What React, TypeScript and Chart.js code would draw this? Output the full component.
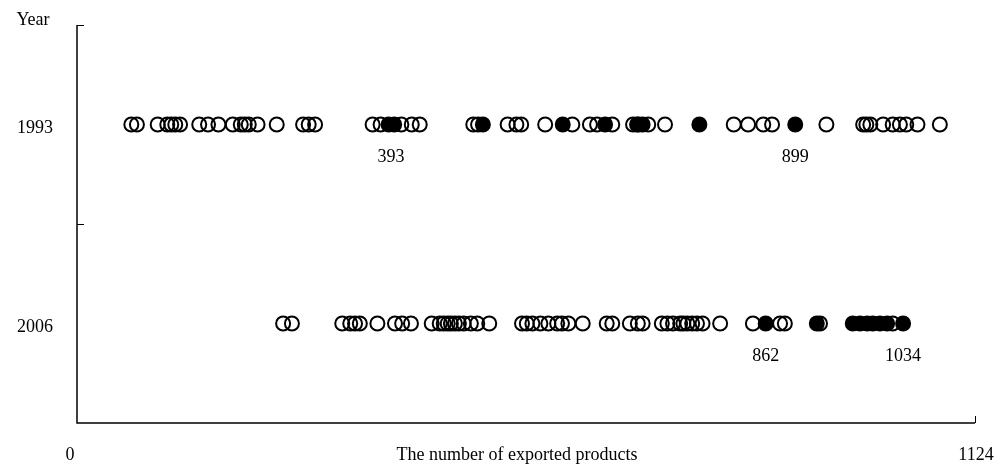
import React, { useEffect, useRef } from "react";
import { Chart, registerables } from "chart.js";

Chart.register(...registerables);

const years = ["1993", "2006"];
const yearLevels = [1.5, 0.5];
const xMin = 0;
const xMax = 1124;
const xTickLabels = ["0", "1124"];
const xTitle = "The number of exported products";
const yTitle = "Year";

const open1993 = [68, 75, 101, 113, 118, 123, 129, 153, 164, 177, 195, 205, 210, 215, 226, 250, 283, 290, 298, 370, 380, 406, 419, 429, 496, 502, 539, 550, 556, 586, 620, 642, 651, 670, 696, 703, 715, 736, 822, 840, 859, 870, 938, 984, 988, 993, 1009, 1021, 1030, 1038, 1052, 1080];
const filled1993 = [390, 397, 508, 608, 661, 701, 708, 779, 899];
const open2006 = [258, 269, 332, 342, 348, 354, 376, 398, 407, 418, 444, 454, 459, 464, 468, 473, 478, 484, 493, 501, 516, 557, 563, 570, 580, 590, 601, 607, 615, 633, 663, 670, 692, 702, 708, 732, 739, 746, 755, 759, 764, 770, 776, 783, 805, 846, 880, 886, 930, 1021];
const filled2006 = [862, 926, 971, 980, 989, 996, 1005, 1014, 1034];
const marked1993 = [393, 899];
const marked2006 = [862, 1034];

const FONT = "18px 'Liberation Serif', 'Times New Roman', serif";

export default function App() {
  const ref = useRef<HTMLCanvasElement>(null);
  useEffect(() => {
    if (!ref.current) return;
    const pts = (arr: number[], lvl: number) => arr.map((x) => ({ x, y: lvl }));
    const decor = {
      id: "decor",
      afterDraw(chart: any) {
        const { ctx, chartArea, scales } = chart;
        const xs = scales.x;
        const ys = scales.y;
        ctx.save();
        ctx.strokeStyle = "#000";
        ctx.lineWidth = 1.5;
        ctx.beginPath();
        ctx.moveTo(chartArea.left, chartArea.top);
        ctx.lineTo(chartArea.left, chartArea.bottom);
        ctx.lineTo(chartArea.right, chartArea.bottom);
        ctx.stroke();
        ctx.lineWidth = 1;
        ctx.beginPath();
        [2, 1].forEach((v) => {
          const y = Math.round(ys.getPixelForValue(v)) + 0.5;
          ctx.moveTo(chartArea.left, y);
          ctx.lineTo(chartArea.left + 7, y);
        });
        const rx = Math.round(chartArea.right) + 0.5;
        ctx.moveTo(rx, chartArea.bottom);
        ctx.lineTo(rx, chartArea.bottom - 7);
        ctx.stroke();

        ctx.fillStyle = "#000";
        ctx.font = FONT;
        ctx.textAlign = "center";
        ctx.textBaseline = "middle";
        ctx.fillText(yTitle, 33, chartArea.top - 5);
        years.forEach((yr, i) => {
          ctx.fillText(yr, 35, ys.getPixelForValue(yearLevels[i]) + 4);
        });
        ctx.fillText(xTickLabels[0], xs.getPixelForValue(xMin) - 7, chartArea.bottom + 32);
        ctx.fillText(xTickLabels[1], xs.getPixelForValue(xMax) + 1, chartArea.bottom + 32);
        ctx.fillText(xTitle, (chartArea.left + chartArea.right) / 2 - 9, chartArea.bottom + 32);
        [marked1993, marked2006].forEach((arr, i) => {
          const y = ys.getPixelForValue(yearLevels[i]) + 33;
          arr.forEach((v) => ctx.fillText(String(v), xs.getPixelForValue(v), y));
        });
        ctx.restore();
      },
    };
    const common = { pointRadius: 7, pointBorderWidth: 2, pointBorderColor: "#000", showLine: false, pointHoverRadius: 7 };
    const chart = new Chart(ref.current, {
      type: "scatter",
      data: {
        datasets: [
          { ...common, data: pts(open1993, yearLevels[0]), pointBackgroundColor: "rgba(255,255,255,0)" },
          { ...common, data: pts(open2006, yearLevels[1]), pointBackgroundColor: "rgba(255,255,255,0)" },
          { ...common, data: pts(filled1993, yearLevels[0]), pointBackgroundColor: "#000" },
          { ...common, data: pts(filled2006, yearLevels[1]), pointBackgroundColor: "#000" },
        ],
      },
      options: {
        animation: false,
        responsive: false,
        layout: { padding: { left: 77, right: 23, top: 25, bottom: 45 } },
        plugins: { legend: { display: false }, tooltip: { enabled: false } },
        scales: {
          x: { type: "linear", min: xMin, max: xMax, display: false },
          y: { type: "linear", min: 0, max: 2, display: false },
        },
      },
      plugins: [decor],
    });
    return () => chart.destroy();
  }, []);
  return (
    <div style={{ position: "fixed", left: 0, top: 0, width: 998, height: 468, background: "#fff" }}>
      <canvas ref={ref} width={998} height={468} style={{ display: "block" }} />
    </div>
  );
}
